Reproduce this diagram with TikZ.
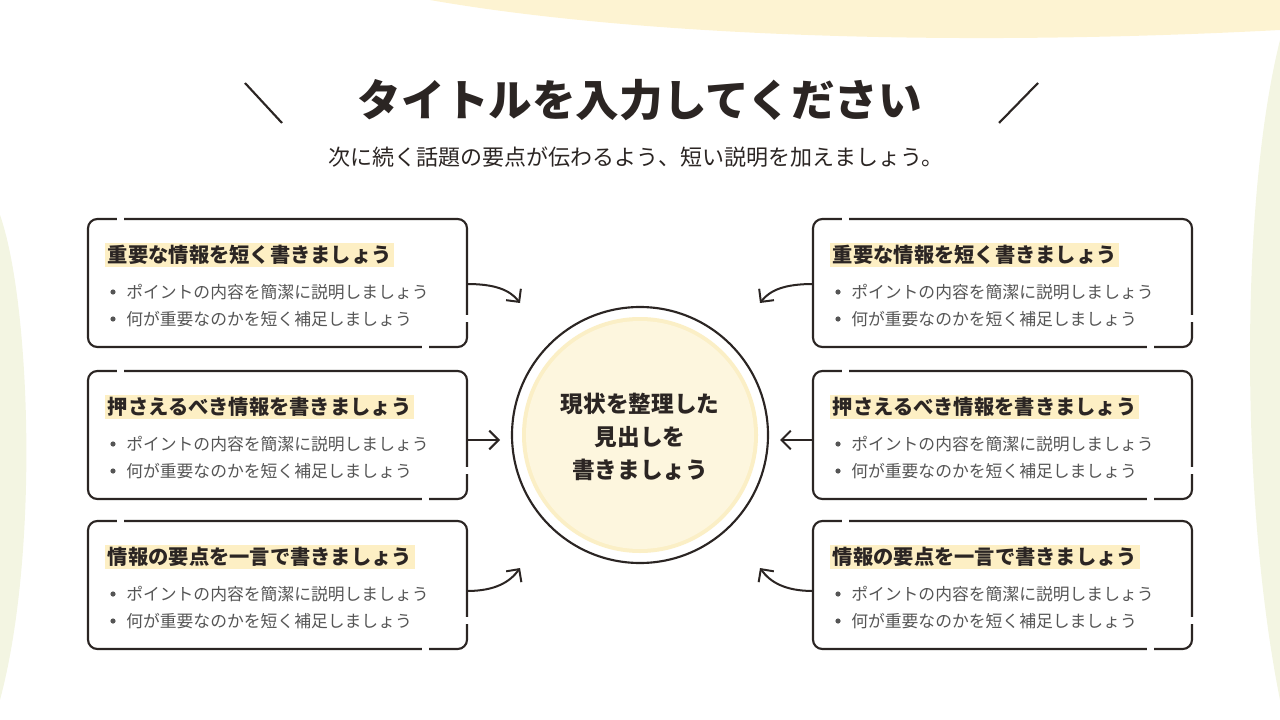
\documentclass[tikz,border=0pt]{standalone}
\usepackage{fontspec}
\setmainfont{Noto Sans CJK JP}
\usetikzlibrary{arrows.meta}
\definecolor{ink}{HTML}{2B2523}
\definecolor{hl}{HTML}{FDEFC4}
\definecolor{cfill}{HTML}{FDF6DE}
\definecolor{cring}{HTML}{FBEFC6}
\definecolor{blobY}{HTML}{FDF3D2}
\definecolor{blobG}{HTML}{F3F5E2}
\definecolor{grayt}{HTML}{555555}
\begin{document}
\begin{tikzpicture}[x=0.75pt,y=-0.75pt,
  box/.style={draw=ink,line width=1.6pt,rounded corners=7pt},
  gap/.style={fill=white,draw=none},
  head/.style={fill=hl,inner sep=2pt,anchor=west,font=\fontsize{15.2}{17}\selectfont\bfseries,text=ink},
  bul/.style={anchor=west,font=\fontsize{12.6}{14}\selectfont,text=grayt,inner sep=0pt},
  conn/.style={draw=ink,line width=1.5pt,-{Straight Barb[length=7pt,width=14pt]}}]
\useasboundingbox (0,0) rectangle (1280,720);
% background blobs
\fill[blobY] (430,0) .. controls (600,30) and (900,50) .. (1280,30) -- (1280,0) -- cycle;
\fill[blobG] (0,215) .. controls (30,300) and (40,550) .. (0,700) -- cycle;
\fill[blobG] (1280,40) .. controls (1240,200) and (1240,500) .. (1280,700) -- cycle;
% title
\node[text=ink,font=\fontsize{32.7}{36}\selectfont\bfseries] (title) at (640,100) {タイトルを入力してください};
\node[text=ink,font=\fontsize{16.5}{19}\selectfont] (sub) at (636,157) {次に続く話題の要点が伝わるよう、短い説明を加えましょう。};
\coordinate (l1) at (245,83); \coordinate (l2) at (282,123);
\coordinate (r1) at (1038,83); \coordinate (r2) at (999,123);
\draw[ink,line width=1.6pt] (l1) -- (l2);
\draw[ink,line width=1.6pt] (r1) -- (r2);
% circle
\node[circle,draw=ink,line width=1.6pt,minimum size=256*0.75pt,fill=white] (c) at (640,435) {};
\fill[cring] (c.center) circle (118*0.75pt);
\fill[cfill] (c.center) circle (114*0.75pt);
\node[align=center,text=ink,font=\fontsize{17}{25}\selectfont\bfseries] (ct) at (640,437) {現状を整理した\\見出しを\\書きましょう};
% boxes
\foreach \n/\x/\y/\h in {a/88/219/重要な情報を短く書きましょう,b/88/371/押さえるべき情報を書きましょう,c/88/521/情報の要点を一言で書きましょう,
                         d/813/219/重要な情報を短く書きましょう,e/813/371/押さえるべき情報を書きましょう,f/813/521/情報の要点を一言で書きましょう}{
  \draw[box] (\x,\y) rectangle ++(379,128);
  \coordinate (\n-w) at (\x,\y+69);
  \coordinate (\n-e) at (\x+379,\y+69);
  \fill[gap] (\x+29,\y-3) rectangle ++(7,6);
  \fill[gap] (\x+376,\y+96) rectangle ++(6,7);
  \fill[gap] (\x+334,\y+125) rectangle ++(7,6);
  \node[head] (\n-h) at (\x+17,\y+36) {\h};
  \fill[grayt] (\x+25,\y+73) circle (2.6*0.75pt);
  \node[bul] (\n-b1) at (\x+38,\y+73) {ポイントの内容を簡潔に説明しましょう};
  \fill[grayt] (\x+25,\y+100) circle (2.6*0.75pt);
  \node[bul] (\n-b2) at (\x+38,\y+100) {何が重要なのかを短く補足しましょう};
}
% connectors
\coordinate (ta) at (520,303); \coordinate (tb) at (500,440); \coordinate (tc) at (520,568);
\coordinate (td) at (760,303); \coordinate (te) at (780,440); \coordinate (tf) at (760,568);
\draw[conn] (a-e) ++(0,-4) coordinate (sa) (sa) .. controls (495,284) and (510,290) .. (ta);
\draw[conn] (b-e) -- (tb);
\draw[conn] (c-e) ++(0,1) coordinate (sc) (sc) .. controls (495,591) and (510,582) .. (tc);
\draw[conn] (d-w) ++(0,-4) coordinate (sd) (sd) .. controls (785,284) and (770,290) .. (td);
\draw[conn] (e-w) -- (te);
\draw[conn] (f-w) ++(0,1) coordinate (sf) (sf) .. controls (785,591) and (770,582) .. (tf);
\end{tikzpicture}
\end{document}
